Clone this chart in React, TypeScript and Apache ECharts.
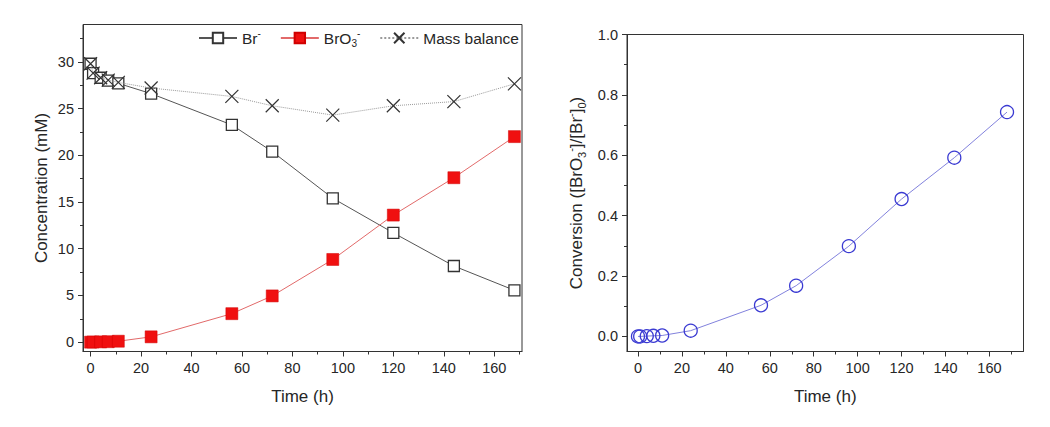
import React, { useEffect, useRef } from "react";
import * as echarts from "echarts";

// ---- data ----
const timeH = [0, 1, 4, 7, 11, 24, 56, 72, 96, 120, 144, 168];
const bromide = [29.8, 28.8, 28.3, 28.0, 27.7, 26.6, 23.25, 20.4, 15.4, 11.7, 8.15, 5.55];
const bromate = [0, 0.02, 0.03, 0.05, 0.1, 0.57, 3.05, 4.95, 8.85, 13.6, 17.6, 22.0];
const massBalance = [29.8, 28.8, 28.3, 28.05, 27.8, 27.2, 26.3, 25.3, 24.3, 25.3, 25.75, 27.65];
const conversion = [0, 0, 0.001, 0.002, 0.003, 0.019, 0.103, 0.168, 0.299, 0.455, 0.592, 0.743];

const seriesNames = ["Br-", "BrO3-", "Mass balance"];

const timeTicks = [0, 20, 40, 60, 80, 100, 120, 140, 160];
const timeMinorTicks = [10, 30, 50, 70, 90, 110, 130, 150, 170];
const concTicks = [0, 5, 10, 15, 20, 25, 30];
const concMinorTicks = [2.5, 7.5, 12.5, 17.5, 22.5, 27.5, 32.5];
const convTicks = [0, 0.2, 0.4, 0.6, 0.8, 1.0];
const convMinorTicks = [0.1, 0.3, 0.5, 0.7, 0.9];

const FONT = '"Liberation Sans", Arial, Helvetica, sans-serif';
const TEXT = "#262626";
const AXIS = "#333333";

const richStyles = {
  n: { fontSize: 17, lineHeight: 22, color: TEXT, fontFamily: FONT },
  sup: { fontSize: 11, lineHeight: 12, verticalAlign: "top", color: TEXT, fontFamily: FONT },
  sub: { fontSize: 11, lineHeight: 12, verticalAlign: "bottom", color: TEXT, fontFamily: FONT },
};
const legendRich = {
  n: { fontSize: 15.5, lineHeight: 20, color: TEXT, fontFamily: FONT },
  sup: { fontSize: 10, lineHeight: 11, verticalAlign: "top", color: TEXT, fontFamily: FONT },
  sub: { fontSize: 10, lineHeight: 11, verticalAlign: "bottom", color: TEXT, fontFamily: FONT },
};
const legendLabels: Record<string, string> = {
  "Br-": "{n|Br}{sup|-}",
  "BrO3-": "{n|BrO}{sub|3}{sup|-}",
  "Mass balance": "{n|Mass balance}",
};

function mainAxis(
  gridIndex: number,
  min: number,
  max: number,
  ticks: number[],
  position: string,
  name: string,
  nameGap: number,
  fmt?: (v: number) => string
) {
  return {
    type: "value",
    gridIndex,
    min,
    max,
    position,
    axisLine: { show: true, onZero: false, lineStyle: { color: AXIS, width: 1 } },
    axisTick: { show: true, length: 5, customValues: ticks, lineStyle: { color: AXIS, width: 1 } },
    axisLabel: {
      show: true,
      customValues: ticks,
      margin: 9,
      fontSize: 14.5,
      color: TEXT,
      fontFamily: FONT,
      formatter: fmt ? (v: number) => fmt(v) : (v: number) => String(v),
    },
    splitLine: { show: false },
    name,
    nameLocation: "middle",
    nameGap,
    nameTextStyle: { fontSize: 17, color: TEXT, fontFamily: FONT, rich: richStyles },
  };
}

function minorAxis(gridIndex: number, min: number, max: number, ticks: number[], position: string) {
  return {
    type: "value",
    gridIndex,
    min,
    max,
    position,
    axisLine: { show: false, onZero: false },
    axisTick: { show: true, length: 3, customValues: ticks, lineStyle: { color: AXIS, width: 1 } },
    axisLabel: { show: false },
    splitLine: { show: false },
  };
}

const X_SYMBOL = "path://M0,0L10,10M10,0L0,10";

export default function App() {
  const ref = useRef<HTMLDivElement>(null);

  useEffect(() => {
    if (!ref.current) return;
    const chart = echarts.init(ref.current, undefined, { renderer: "svg" });
    const pts = (ys: number[]) => timeH.map((t, i) => [t, ys[i]]);

    chart.setOption({
      animation: false,
      backgroundColor: "#ffffff",
      textStyle: { fontFamily: FONT },
      grid: [
        {
          left: 83, top: 24.5, width: 439, height: 327,
          show: true, borderColor: AXIS, borderWidth: 1, backgroundColor: "transparent",
          containLabel: false, outerBoundsMode: "none",
        },
        {
          left: 627, top: 34.5, width: 396.5, height: 317,
          show: true, borderColor: AXIS, borderWidth: 1, backgroundColor: "transparent",
          containLabel: false, outerBoundsMode: "none",
        },
      ],
      legend: {
        left: 193,
        top: 23,
        itemWidth: 38,
        itemHeight: 13,
        itemGap: 19,
        data: seriesNames,
        formatter: (name: string) => legendLabels[name] || name,
        textStyle: { fontSize: 15.5, color: TEXT, fontFamily: FONT, rich: legendRich },
      },
      xAxis: [
        mainAxis(0, -3, 171, timeTicks, "bottom", "Time (h)", 36),
        minorAxis(0, -3, 171, timeMinorTicks, "bottom"),
        mainAxis(1, -5, 175.5, timeTicks, "bottom", "Time (h)", 36),
        minorAxis(1, -5, 175.5, timeMinorTicks, "bottom"),
      ],
      yAxis: [
        mainAxis(0, -1, 34, concTicks, "left", "Concentration (mM)", 33),
        minorAxis(0, -1, 34, concMinorTicks, "left"),
        mainAxis(
          1, -0.05, 1.0, convTicks, "left",
          "{n|Conversion ([BrO}{sub|3}{sup|-}{n|]/[Br}{sup|-}{n|]}{sub|0}{n|)}",
          40,
          (v: number) => v.toFixed(1)
        ),
        minorAxis(1, -0.05, 1.0, convMinorTicks, "left"),
      ],
      series: [
        {
          name: seriesNames[0],
          type: "line",
          xAxisIndex: 0,
          yAxisIndex: 0,
          data: pts(bromide),
          symbol: "rect",
          symbolSize: 11,
          lineStyle: { color: "#555555", width: 1 },
          itemStyle: { color: "#ffffff", borderColor: "#333333", borderWidth: 1.3 },
          z: 3,
        },
        {
          name: seriesNames[1],
          type: "line",
          xAxisIndex: 0,
          yAxisIndex: 0,
          data: pts(bromate),
          symbol: "rect",
          symbolSize: 12,
          lineStyle: { color: "#e26a6a", width: 1 },
          itemStyle: { color: "#f01010", borderColor: "#d00000", borderWidth: 0.5 },
          z: 4,
        },
        {
          name: seriesNames[2],
          type: "line",
          xAxisIndex: 0,
          yAxisIndex: 0,
          data: pts(massBalance),
          symbol: X_SYMBOL,
          symbolSize: 13,
          lineStyle: { color: "#9a9a9a", width: 1, type: "dotted" },
          itemStyle: { color: "none", borderColor: "#333333", borderWidth: 1.2 },
          z: 5,
        },
        {
          name: "Conversion",
          type: "line",
          xAxisIndex: 2,
          yAxisIndex: 2,
          data: pts(conversion),
          symbol: "circle",
          symbolSize: 13,
          lineStyle: { color: "#8282dd", width: 1 },
          itemStyle: { color: "transparent", borderColor: "#3a3ad2", borderWidth: 1.3 },
        },
      ],
    });

    return () => chart.dispose();
  }, []);

  return (
    <div
      ref={ref}
      style={{ position: "absolute", left: 0, top: 0, width: 1050, height: 427, background: "#fff" }}
    />
  );
}
